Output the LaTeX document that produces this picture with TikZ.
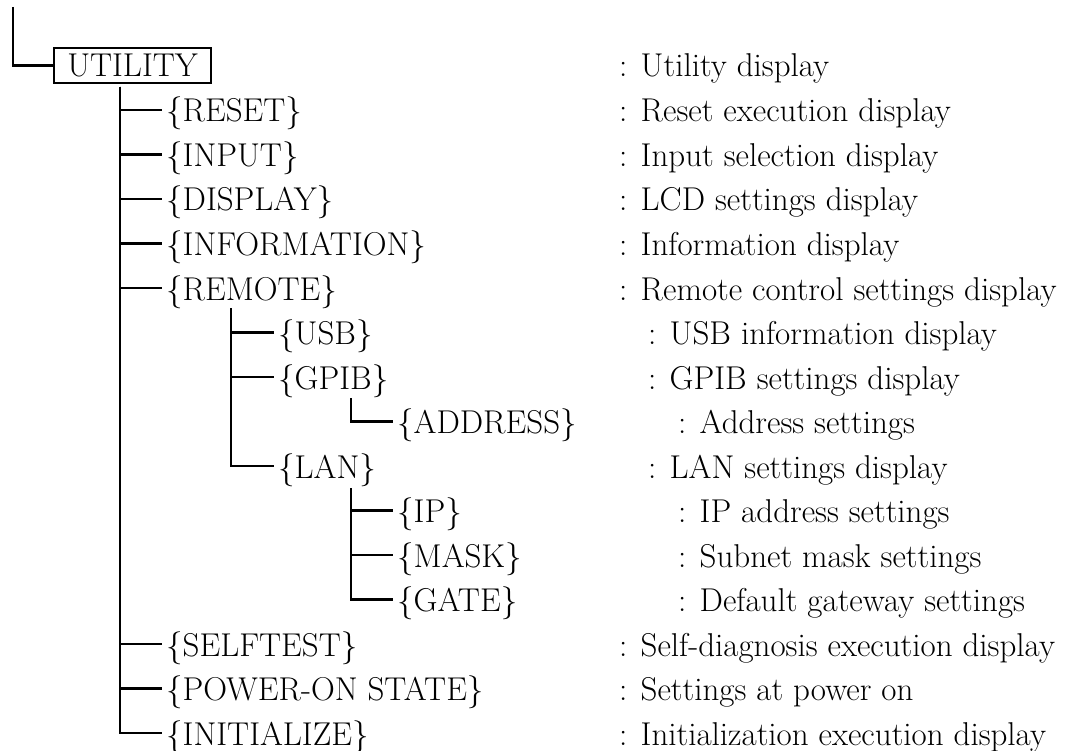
\documentclass[tikz,border=0pt]{standalone}
\usepackage{fontspec}
\usetikzlibrary{positioning}

\begin{document}
\begin{tikzpicture}[x=1pt, y=-1pt, font=\fontsize{33}{38}\selectfont,
  item/.style={anchor=west, inner xsep=4pt, inner ysep=0pt, text height=24pt, text depth=0pt},
  desc/.style={anchor=west, inner sep=0pt, text height=24pt, text depth=0pt},
  branch/.style={line width=2.5pt}]
\useasboundingbox (0,0) rectangle (1070,751);

% Root
\coordinate (top) at (13,7);
\node[draw, line width=2.5pt, minimum width=157pt, minimum height=35pt, inner sep=0pt, text height=23pt, text depth=0pt] (utility) at (132.5,65.5) {UTILITY};
\node[desc] (dutility) at (619,65) {: Utility display};
\draw[branch] (top) |- (utility.west);

% Level 1
\node[item] (reset) at (162,110) {\{RESET\}};
\node[item] (input) at (162,154.5) {\{INPUT\}};
\node[item] (display) at (162,199) {\{DISPLAY\}};
\node[item] (information) at (162,243.5) {\{INFORMATION\}};
\node[item] (remote) at (162,288) {\{REMOTE\}};
\node[item] (selftest) at (162,644) {\{SELFTEST\}};
\node[item] (poweron) at (162,688.5) {\{POWER-ON STATE\}};
\node[item] (initialize) at (162,733) {\{INITIALIZE\}};

\node[desc] (dreset) at (619,110) {: Reset execution display};
\node[desc] (dinput) at (619,154.5) {: Input selection display};
\node[desc] (ddisplay) at (619,199) {: LCD settings display};
\node[desc] (dinformation) at (619,243.5) {: Information display};
\node[desc] (dremote) at (619,288) {: Remote control settings display};
\node[desc] (dselftest) at (619,644) {: Self-diagnosis execution display};
\node[desc] (dpoweron) at (619,688.5) {: Settings at power on};
\node[desc] (dinitialize) at (619,733) {: Initialization execution display};

\coordinate (trunkA) at (120,87);
\foreach \c in {reset,input,display,information,remote,selftest,poweron,initialize}
  \draw[branch] (trunkA) |- (\c.west);

% Level 2 (REMOTE)
\node[item] (usb) at (274,332.5) {\{USB\}};
\node[item] (gpib) at (274,377) {\{GPIB\}};
\node[item] (lan) at (274,466) {\{LAN\}};

\node[desc] (dusb) at (648,332.5) {: USB information display};
\node[desc] (dgpib) at (648,377) {: GPIB settings display};
\node[desc] (dlan) at (648,466) {: LAN settings display};

\coordinate (trunkB) at (231,308);
\foreach \c in {usb,gpib,lan}
  \draw[branch] (trunkB) |- (\c.west);

% Level 3 (GPIB)
\node[item] (address) at (393,421.5) {\{ADDRESS\}};
\node[desc] (daddress) at (678,421.5) {: Address settings};
\coordinate (trunkC) at (351,398);
\draw[branch] (trunkC) |- (address.west);

% Level 3 (LAN)
\node[item] (ip) at (393,510.5) {\{IP\}};
\node[item] (mask) at (393,555) {\{MASK\}};
\node[item] (gate) at (393,599.5) {\{GATE\}};

\node[desc] (dip) at (678,510.5) {: IP address settings};
\node[desc] (dmask) at (678,555) {: Subnet mask settings};
\node[desc] (dgate) at (678,599.5) {: Default gateway settings};

\coordinate (trunkD) at (351,488);
\foreach \c in {ip,mask,gate}
  \draw[branch] (trunkD) |- (\c.west);

\end{tikzpicture}
\end{document}
